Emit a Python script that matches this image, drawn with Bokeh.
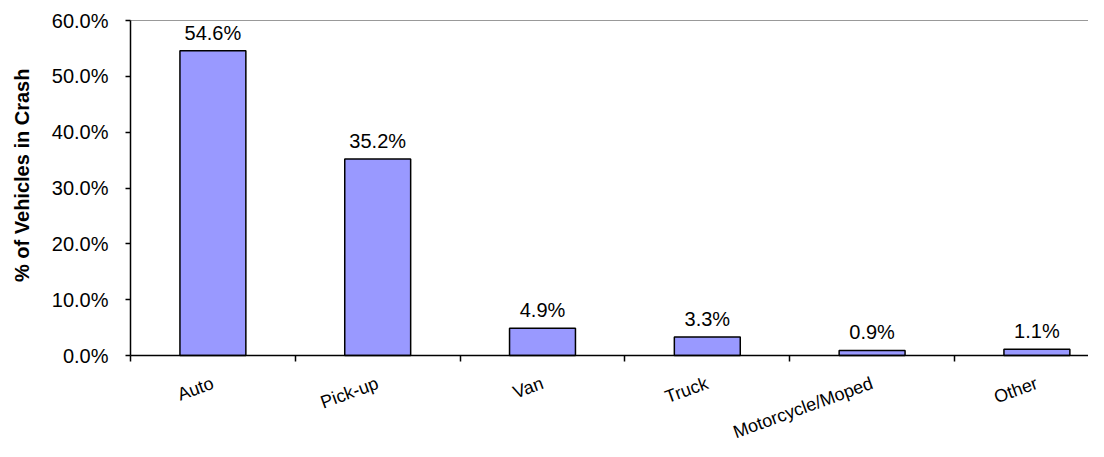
import math
from bokeh.plotting import figure
from bokeh.models import Range1d, FixedTicker, NumeralTickFormatter, ColumnDataSource
from bokeh.embed import file_html
from bokeh.resources import INLINE
from bokeh.core.properties import value

# ---- data ----
categories = ["Auto", "Pick-up", "Van", "Truck", "Motorcycle/Moped", "Other"]
shares = [0.546, 0.352, 0.049, 0.033, 0.009, 0.011]
share_labels = ["54.6%", "35.2%", "4.9%", "3.3%", "0.9%", "1.1%"]
y_ticks = [0.0, 0.1, 0.2, 0.3, 0.4, 0.5, 0.6]
y_title = "% of Vehicles  in Crash"

# ---- layout (pixels inside the canvas) ----
FONT = "Liberation Sans"
W, H = 1088, 441
AXIS_X = 130        # canvas x of the value axis
TOP_Y = 20          # canvas y of the 60% line
ZERO_Y = 355        # canvas y of the 0% line
CAT_PX = 164.8      # pixel width of one category slot
TITLE_X, TITLE_Y = 21, 172   # centre of the rotated value-axis title

positions = [i + 1 for i in range(len(categories))]
boundaries = [i + 0.5 for i in range(len(categories) + 1)]
y_lo, y_hi = y_ticks[0], y_ticks[-1]

# the frame covers the whole canvas, axes are pinned inside it
ux = 1.0 / CAT_PX
uy = (y_hi - y_lo) / (ZERO_Y - TOP_Y)
x0 = boundaries[0] - AXIS_X * ux
x1 = boundaries[0] + (W - AXIS_X) * ux
y1 = y_hi + TOP_Y * uy
y0 = y_lo - (H - ZERO_Y) * uy

src = ColumnDataSource(dict(x=positions, share=shares, label=share_labels))

p = figure(width=W, height=H, output_backend="svg", toolbar_location=None,
           x_range=Range1d(x0, x1), y_range=Range1d(y0, y1),
           min_border_left=0, min_border_right=0,
           min_border_top=0, min_border_bottom=0)
p.title.visible = False
p.outline_line_color = None
p.xgrid.visible = False
p.ygrid.visible = False
p.background_fill_color = "white"
p.border_fill_color = "white"

# grey top border of the plot area
p.segment(x0=[boundaries[0]], y0=[y_hi], x1=[x1], y1=[y_hi],
          line_color="#999999", line_width=1)

p.vbar(x="x", top="share", bottom=y_lo, width=0.4, source=src,
       fill_color="#9999FF", line_color="black", line_width=1.5)

p.text(x="x", y="share", text="label", source=src,
       text_align="center", text_baseline="alphabetic", y_offset=-18,
       text_font=value(FONT), text_font_size="20px", text_color="black")

# category axis pinned at 0
xa = p.xaxis[0]
xa.fixed_location = y_lo
xa.bounds = (boundaries[0], x1)
xa.ticker = FixedTicker(ticks=positions, minor_ticks=boundaries)
xa.major_label_overrides = {pos: cat for pos, cat in zip(positions, categories)}
xa.major_tick_line_color = None
xa.major_tick_out = 0
xa.major_tick_in = 0
xa.minor_tick_out = 6
xa.minor_tick_in = 0
xa.minor_tick_line_color = "black"
xa.minor_tick_line_width = 1.5
xa.axis_line_color = "black"
xa.axis_line_width = 1.5
xa.major_label_orientation = 0.349
xa.major_label_standoff = 21
xa.major_label_text_font = FONT
xa.major_label_text_font_size = "18px"
xa.major_label_text_color = "black"

# value axis pinned at the left slot boundary
ya = p.yaxis[0]
ya.fixed_location = boundaries[0]
ya.bounds = (y_lo, y_hi)
ya.ticker = FixedTicker(ticks=y_ticks)
ya.formatter = NumeralTickFormatter(format="0.0%")
ya.major_tick_out = 5
ya.major_tick_in = 0
ya.minor_tick_line_color = None
ya.axis_line_color = "black"
ya.axis_line_width = 1.5
ya.major_tick_line_width = 1.5
ya.major_label_standoff = 17
ya.major_label_text_font = FONT
ya.major_label_text_font_size = "20px"
ya.major_label_text_color = "black"

# rotated value-axis title
p.text(x=[boundaries[0] - (AXIS_X - TITLE_X) * ux],
       y=[y_lo + (ZERO_Y - TITLE_Y) * uy],
       text=[y_title], angle=math.pi / 2,
       text_align="center", text_baseline="middle",
       text_font=value(FONT), text_font_size="20px",
       text_font_style="bold", text_color="black")

open("out.html", "w").write(file_html(p, INLINE))
